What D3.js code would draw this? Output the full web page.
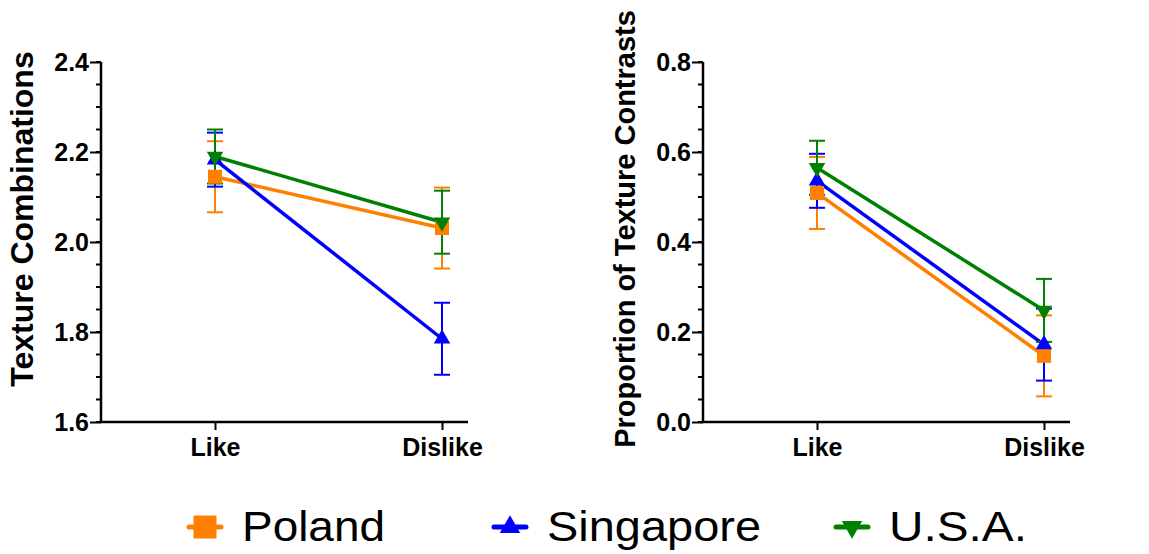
<!DOCTYPE html>
<html>
<head>
<meta charset="utf-8">
<script src="https://cdn.jsdelivr.net/npm/d3@7"></script>
<style>
  body { margin: 0; background: #fff; }
  svg { display: block; font-family: Arial, "Liberation Sans", sans-serif; }
</style>
</head>
<body>
<svg width="1149" height="554"></svg>
<script>
const categories = ["Like", "Dislike"];
const countries = ["Poland", "Singapore", "U.S.A."];
const colors = ["#FF8000", "#0000FF", "#008000"];

// texture combinations: mean and error per country (Like, Dislike)
const comboMeans = [[2.145, 2.031], [2.183, 1.785], [2.19, 2.044]];
const comboErrs  = [[0.079, 0.09], [0.06, 0.08], [0.06, 0.07]];
const comboTicks = [1.6, 1.8, 2.0, 2.2, 2.4];

// proportion of texture contrasts
const contrastMeans = [[0.509, 0.147], [0.536, 0.172], [0.565, 0.248]];
const contrastErrs  = [[0.08, 0.09], [0.06, 0.08], [0.06, 0.07]];
const contrastTicks = [0.0, 0.2, 0.4, 0.6, 0.8];

const svg = d3.select("svg");
const panelW = 367, panelH = 360;

function marker(i, size) {
  if (i === 0) return d3.symbol(d3.symbolSquare, size)();
  return d3.symbol(d3.symbolTriangle, size * 0.6)();
}

function panel(x0, y0, domain, ticks, means, errs, title, titleSize, titleY) {
  const g = svg.append("g").attr("transform", `translate(${x0},${y0})`);
  const x = d3.scalePoint().domain(categories).range([114, 341]);
  const y = d3.scaleLinear().domain(domain).range([panelH, 0]);

  // minor ticks
  const minor = d3.range(domain[0], domain[1] + 1e-9, (ticks[1] - ticks[0]) / 4);
  g.selectAll(".minor").data(minor).join("line")
    .attr("x1", -5).attr("x2", 0)
    .attr("y1", d => y(d)).attr("y2", d => y(d))
    .attr("stroke", "#000").attr("stroke-width", 2);

  const yAxis = g.append("g").call(d3.axisLeft(y).tickValues(ticks).tickSize(11).tickPadding(1).tickFormat(d3.format(".1f")));
  yAxis.select(".domain").attr("stroke-width", 2.5).attr("d", `M0,${panelH + 1}V0`);
  yAxis.selectAll(".tick line").attr("stroke-width", 2);
  yAxis.selectAll("text").attr("font-size", 25).attr("font-weight", "bold").attr("fill", "#000");

  const xAxis = g.append("g").attr("transform", `translate(0,${panelH})`)
    .call(d3.axisBottom(x).tickSize(8).tickPadding(8));
  xAxis.select(".domain").attr("stroke-width", 2.5).attr("d", `M-1,0H${panelW}`);
  xAxis.selectAll(".tick line").attr("stroke-width", 2);
  xAxis.selectAll("text").attr("font-size", 25).attr("font-weight", "bold").attr("fill", "#000");

  g.append("text")
    .attr("transform", `translate(-68,${titleY}) rotate(-90)`)
    .attr("text-anchor", "middle")
    .attr("font-size", titleSize).attr("font-weight", "bold")
    .text(title);

  const line = d3.line().x((d, j) => x(categories[j])).y(d => y(d));
  means.forEach((m, i) => {
    g.append("path").attr("d", line(m)).attr("fill", "none")
      .attr("stroke", colors[i]).attr("stroke-width", 3.5);
  });
  means.forEach((m, i) => {
    m.forEach((v, j) => {
      const cx = x(categories[j]), e = errs[i][j];
      const eb = g.append("g").attr("stroke", colors[i]).attr("stroke-width", 2);
      eb.append("line").attr("x1", cx).attr("x2", cx).attr("y1", y(v - e)).attr("y2", y(v + e));
      [v - e, v + e].forEach(c => eb.append("line")
        .attr("x1", cx - 8).attr("x2", cx + 8).attr("y1", y(c)).attr("y2", y(c)));
    });
  });
  means.forEach((m, i) => {
    m.forEach((v, j) => {
      g.append("path").attr("d", marker(i, 196))
        .attr("transform", `translate(${x(categories[j])},${y(v)})${i === 2 ? " rotate(180)" : ""}`)
        .attr("fill", colors[i]);
    });
  });
}

panel(101, 62, [1.6, 2.4], comboTicks, comboMeans, comboErrs, "Texture Combinations", 32, 157);
panel(703, 62, [0, 0.8], contrastTicks, contrastMeans, contrastErrs, "Proportion of Texture Contrasts", 29, 167);

// legend
const legendX = [205, 510, 852];
const legendLen = [143, 214, 138];
const leg = svg.append("g");
countries.forEach((c, i) => {
  const lg = leg.append("g").attr("transform", `translate(${legendX[i]},527)`);
  lg.append("line").attr("x1", -16).attr("x2", 16)
    .attr("stroke", colors[i]).attr("stroke-width", 5).attr("stroke-linecap", "round");
  lg.append("path").attr("d", marker(i, i === 0 ? 529 : 300))
    .attr("transform", i === 2 ? "rotate(180)" : null)
    .attr("fill", colors[i]);
  lg.append("text").attr("x", 37).attr("y", 14)
    .attr("font-size", 42).attr("fill", "#000")
    .attr("textLength", legendLen[i]).attr("lengthAdjust", "spacingAndGlyphs")
    .text(c);
});
</script>
</body>
</html>
